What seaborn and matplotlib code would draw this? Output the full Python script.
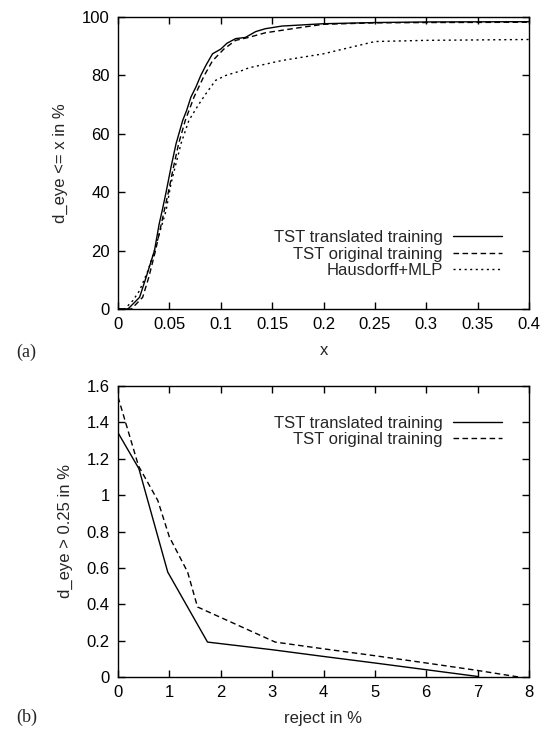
import numpy as np
import pandas as pd
import matplotlib
matplotlib.use("Agg")
import matplotlib.pyplot as plt
import seaborn as sns

# ---- panel (a): cumulative d_eye curves ----
x_trans = [0, 0.0097, 0.021, 0.0274, 0.0355, 0.040, 0.043, 0.0468, 0.0516, 0.0565, 0.063,
           0.0668, 0.071, 0.0758, 0.0806, 0.0855, 0.092, 0.1, 0.106, 0.1145, 0.124, 0.134,
           0.1435, 0.1596, 0.2, 0.25, 0.3, 0.4]
y_trans = [0, 0, 4, 10.9, 20, 29, 33.7, 40, 48.6, 56.6, 64.6,
           68, 72.6, 76, 80, 83.4, 87.4, 89, 91, 92.6, 93, 95,
           96, 96.9, 97.7, 98.1, 98.3, 98.4]

x_orig = [0, 0.013, 0.024, 0.030, 0.0365, 0.045, 0.049, 0.054, 0.059, 0.0655, 0.074,
          0.084, 0.092, 0.103, 0.1145, 0.127, 0.1435, 0.1757, 0.2, 0.25, 0.3, 0.4]
y_orig = [0, 0, 4, 10.9, 20, 33.7, 40, 48.6, 56.6, 64.6, 72.6,
          80, 85, 89, 92, 93, 94.6, 96.3, 97.5, 98, 98.1, 98.2]

x_haus = [0, 0.0065, 0.0145, 0.021, 0.029, 0.0355, 0.0468, 0.0516, 0.0613, 0.069, 0.079,
          0.0855, 0.095, 0.105, 0.121, 0.1274, 0.1596, 0.2, 0.25, 0.3, 0.4]
y_haus = [0, 0, 2.9, 6.3, 13, 20, 33.7, 43, 56.6, 64.6, 70.3,
          73.7, 78.3, 80, 81.7, 82.6, 85.1, 87.4, 91.6, 92.0, 92.3]

# ---- panel (b): error rate vs reject ----
rej_trans = [0, 0.406, 0.968, 1.742, 3.0, 4.0, 5.0, 6.0, 7.0]
err_trans = [1.343, 1.146, 0.577, 0.192, 0.15, 0.113, 0.077, 0.04, 0.003]

rej_orig = [0, 0.4, 0.774, 1.0, 1.355, 1.548, 3.06, 4.0, 5.0, 6.0, 7.0, 7.8]
err_orig = [1.54, 1.16, 0.971, 0.77, 0.577, 0.385, 0.192, 0.155, 0.117, 0.077, 0.036, 0.0]

labels = ["TST translated training", "TST original training", "Hausdorff+MLP"]

sns.set_style("ticks")
plt.rcParams['font.family'] = ['Liberation Sans', 'DejaVu Sans']
plt.rcParams['axes.linewidth'] = 1.0
plt.rcParams['xtick.direction'] = 'in'
plt.rcParams['ytick.direction'] = 'in'
plt.rcParams['xtick.top'] = True
plt.rcParams['ytick.right'] = True
plt.rcParams['xtick.major.size'] = 5
plt.rcParams['ytick.major.size'] = 5

FS = 12
dash_styles = [(None, None), (4, 2.5), (1.5, 2.5)]

fig = plt.figure(figsize=(5.47, 7.29), dpi=100)
ax1 = fig.add_axes([118/547, 1-309/729, 411/547, 292/729])
ax2 = fig.add_axes([118/547, 1-677/729, 411/547, 291/729])

df_a = pd.concat([
    pd.DataFrame({"x": x_trans, "y": y_trans, "series": labels[0]}),
    pd.DataFrame({"x": x_orig, "y": y_orig, "series": labels[1]}),
    pd.DataFrame({"x": x_haus, "y": y_haus, "series": labels[2]}),
])
df_b = pd.concat([
    pd.DataFrame({"x": rej_trans, "y": err_trans, "series": labels[0]}),
    pd.DataFrame({"x": rej_orig, "y": err_orig, "series": labels[1]}),
])

for ax, df, n in [(ax1, df_a, 3), (ax2, df_b, 2)]:
    for i in range(n):
        sub = df[df["series"] == labels[i]]
        sns.lineplot(data=sub, x="x", y="y", ax=ax, color="black", lw=1.0,
                     label=labels[i], sort=False, estimator=None)
        line = ax.get_lines()[-1]
        if dash_styles[i][0] is not None:
            line.set_dashes(dash_styles[i])

ax1.set_xlim(0, 0.4)
ax1.set_ylim(0, 100)
ax1.set_xticks(np.arange(0, 0.401, 0.05))
ax1.set_xticklabels(["0", "0.05", "0.1", "0.15", "0.2", "0.25", "0.3", "0.35", "0.4"])
ax1.set_yticks([0, 20, 40, 60, 80, 100])
ax1.set_xlabel("x", fontsize=FS, labelpad=8)
ax1.set_ylabel("d_eye <= x in %", fontsize=FS, labelpad=10)

ax2.set_xlim(0, 8)
ax2.set_ylim(0, 1.6)
ax2.set_xticks(range(0, 9))
ax2.set_yticks([0, 0.2, 0.4, 0.6, 0.8, 1.0, 1.2, 1.4, 1.6])
ax2.set_yticklabels(["0", "0.2", "0.4", "0.6", "0.8", "1", "1.2", "1.4", "1.6"])
ax2.set_xlabel("reject in %", fontsize=FS, labelpad=8)
ax2.set_ylabel("d_eye > 0.25 in %", fontsize=FS, labelpad=10)

for ax in (ax1, ax2):
    ax.tick_params(labelsize=FS, width=1.0, pad=6, colors="black")
    for s in ax.spines.values():
        s.set_visible(True)
        s.set_color("black")

ax1.legend(loc="lower right", bbox_to_anchor=(0.97, 0.055), markerfirst=False, frameon=False,
           fontsize=FS, handlelength=2.9, labelspacing=0.08, handletextpad=0.65)
ax2.legend(loc="upper right", bbox_to_anchor=(0.97, 0.95), markerfirst=False, frameon=False,
           fontsize=FS, handlelength=2.9, labelspacing=0.08, handletextpad=0.65)

fig.text(16/547, 1-352/729, "(a)", fontsize=13, family="Liberation Serif", va="center")
fig.text(16/547, 1-717/729, "(b)", fontsize=13, family="Liberation Serif", va="center")

fig.savefig("out.png", dpi=100)
